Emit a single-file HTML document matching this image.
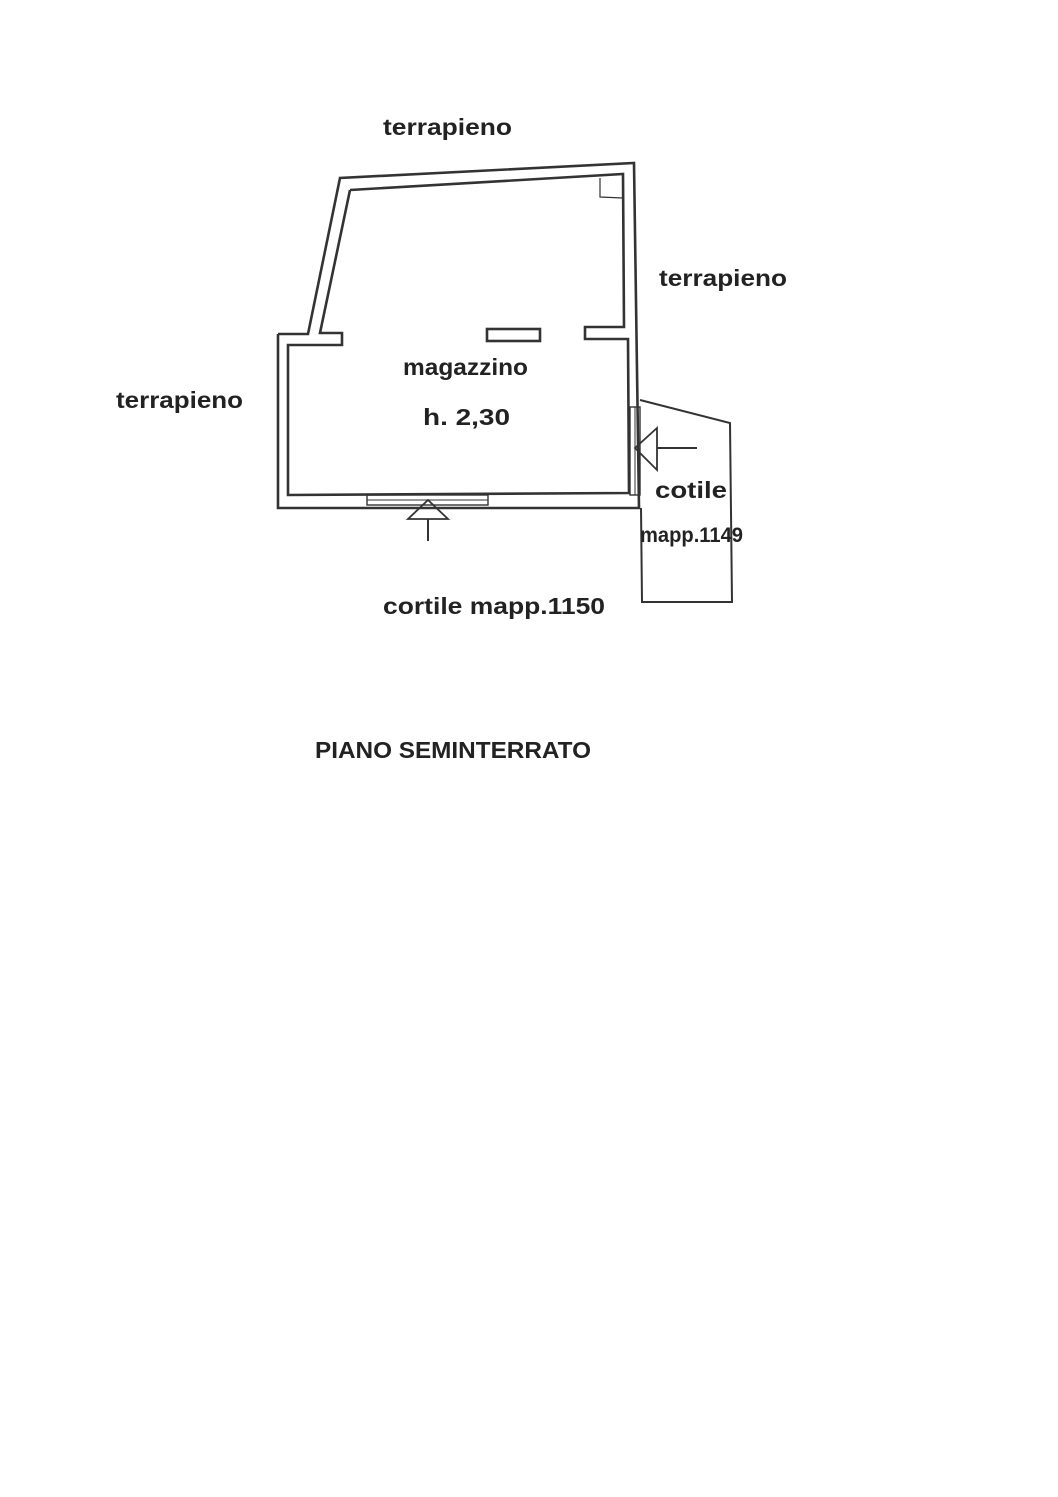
<!DOCTYPE html>
<html><head><meta charset="utf-8"><style>
html,body{margin:0;padding:0;background:#fff;}
svg{display:block;}
text{font-family:"Liberation Sans Narrow","Liberation Sans",sans-serif;font-weight:bold;fill:#222;}
</style></head><body>
<svg width="1058" height="1497" viewBox="0 0 1058 1497" xmlns="http://www.w3.org/2000/svg">
<g fill="none" stroke="#333" stroke-width="2.6">
<polyline points="278,334 308,334 340,178 634,163 639,508 278,508 278,334"/>
<polyline points="350,190 623,174 624,327 585,327 585,339 628,339 629,493 288,495 288,345 342,345 342,333 320,333 350,190"/>
<rect x="487" y="329" width="53" height="12"/>
<polyline points="600,178 600,197 623,198" stroke-width="1.2"/>
<rect x="367" y="495" width="121" height="10" stroke-width="1.4"/>
<line x1="367" y1="500" x2="488" y2="500" stroke-width="1"/>
<rect x="630" y="407" width="10" height="88" stroke-width="1.4"/>
<line x1="635" y1="407" x2="635" y2="495" stroke-width="1"/>
<polyline points="640,400 730,423 732,602 642,602 641,508" stroke-width="2"/>
<polygon points="428,500 408,519 448,519" stroke-width="1.8"/>
<line x1="428" y1="519" x2="428" y2="541" stroke-width="2"/>
<polygon points="635,448 657,428 657,470" stroke-width="1.8"/>
<line x1="657" y1="448" x2="697" y2="448" stroke-width="2"/>
</g>
<g font-size="23">
<text x="383" y="135" textLength="129" lengthAdjust="spacingAndGlyphs">terrapieno</text>
<text x="659" y="286" textLength="128" lengthAdjust="spacingAndGlyphs">terrapieno</text>
<text x="116" y="408" textLength="127" lengthAdjust="spacingAndGlyphs">terrapieno</text>
<text x="403" y="375" textLength="125" lengthAdjust="spacingAndGlyphs">magazzino</text>
<text x="423" y="425" textLength="87" lengthAdjust="spacingAndGlyphs">h. 2,30</text>
<text x="655" y="498" textLength="72" lengthAdjust="spacingAndGlyphs">cotile</text>
<text x="640" y="542" textLength="103" lengthAdjust="spacingAndGlyphs" font-size="21">mapp.1149</text>
<text x="383" y="614" textLength="222" lengthAdjust="spacingAndGlyphs">cortile mapp.1150</text>
<text x="315" y="758" textLength="276" lengthAdjust="spacingAndGlyphs">PIANO SEMINTERRATO</text>
</g>
</svg>
</body></html>
